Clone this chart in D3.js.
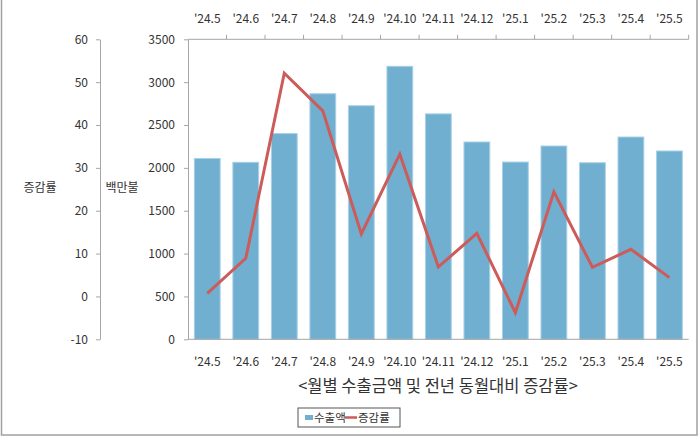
<!DOCTYPE html>
<html>
<head>
<meta charset="utf-8">
<script src="https://cdn.jsdelivr.net/npm/d3@7"></script>
<style>
  body { margin: 0; background: #fff; }
  text { font-family: "Noto Sans CJK KR", "Noto Sans", sans-serif; fill: #333; }
</style>
</head>
<body>
<div id="chart"></div>
<script>
// data
var months = ["'24.5", "'24.6", "'24.7", "'24.8", "'24.9", "'24.10", "'24.11",
  "'24.12", "'25.1", "'25.2", "'25.3", "'25.4", "'25.5"];
var exports = [2110, 2065, 2400, 2865, 2725, 3185, 2630, 2302, 2068, 2255, 2060, 2360, 2197];
var rates = [0.7, 8.9, 52.1, 43.3, 14.6, 33.2, 6.9, 14.7, -3.8, 24.4, 6.8, 11.0, 4.4];
var amountTicks = [0, 500, 1000, 1500, 2000, 2500, 3000, 3500];
var rateTicks = [-10, 0, 10, 20, 30, 40, 50, 60];

var W = 700, H = 439;
var plot = { left: 188, right: 688.7, top: 39.3, bottom: 339.3 };
var axisColor = "#a6a6a6";

var svg = d3
  .select("#chart")
  .append("svg")
  .attr("width", W)
  .attr("height", H);

// outer frame
svg
  .append("rect")
  .attr("x", 1.5)
  .attr("y", -5)
  .attr("width", 695.5)
  .attr("height", 440)
  .attr("fill", "none")
  .attr("stroke", "#a0a0a0")
  .attr("stroke-width", 1.5);

var x = d3
  .scaleBand()
  .domain(months)
  .range([plot.left, plot.right])
  .paddingInner(0.33)
  .paddingOuter(0.165);

var y = d3.scaleLinear().domain([0, 3500]).range([plot.bottom, plot.top]);
var yRate = d3.scaleLinear().domain([-10, 60]).range([plot.bottom, plot.top]);

// bars
svg
  .append("g")
  .selectAll("rect")
  .data(exports)
  .enter()
  .append("rect")
  .attr("x", function (d, i) { return x(months[i]); })
  .attr("y", function (d) { return y(d); })
  .attr("width", x.bandwidth())
  .attr("height", function (d) { return y(0) - y(d); })
  .attr("fill", "#70afd0")
  .attr("stroke", "#a9d1e7")
  .attr("stroke-width", 1);

// left amount axis
var gAmt = svg
  .append("g")
  .attr("transform", "translate(" + plot.left + ",0)")
  .call(d3.axisLeft(y).tickValues(amountTicks).tickSize(4).tickPadding(9).tickSizeOuter(0)
    .tickFormat(d3.format("d")));

// rate axis further left
var gRate = svg
  .append("g")
  .attr("transform", "translate(100,0)")
  .call(d3.axisLeft(yRate).tickValues(rateTicks).tickSize(4).tickPadding(8).tickSizeOuter(0)
    .tickFormat(function (d) { return d < 0 ? "-" + Math.abs(d) : d; }));

[gAmt, gRate].forEach(function (g) {
  g.select(".domain").attr("stroke", axisColor);
  g.selectAll(".tick line").attr("stroke", axisColor);
  g.selectAll(".tick text").style("font-size", "12px").attr("fill", "#333");
});

// top axis: line with ticks at band boundaries, labels centred
var half = (x.step() - x.bandwidth()) / 2;
svg
  .append("line")
  .attr("x1", plot.left)
  .attr("x2", plot.right)
  .attr("y1", plot.top)
  .attr("y2", plot.top)
  .attr("stroke", axisColor);
var bounds = months.map(function (m) { return x(m) - half; }).concat([plot.right]);
svg
  .append("g")
  .selectAll("line")
  .data(bounds.slice(1))
  .enter()
  .append("line")
  .attr("x1", function (d) { return d; })
  .attr("x2", function (d) { return d; })
  .attr("y1", plot.top - 4.5)
  .attr("y2", plot.top)
  .attr("stroke", axisColor);

// bottom axis line
svg
  .append("line")
  .attr("x1", plot.left)
  .attr("x2", plot.right)
  .attr("y1", plot.bottom)
  .attr("y2", plot.bottom)
  .attr("stroke", axisColor);

[23, 366].forEach(function (yy) {
  svg
    .append("g")
    .selectAll("text")
    .data(months)
    .enter()
    .append("text")
    .attr("x", function (d) { return x(d) + x.bandwidth() / 2; })
    .attr("y", yy)
    .attr("text-anchor", "middle")
    .style("font-size", "12px")
    .text(function (d) { return d; });
});

// rate line
var line = d3
  .line()
  .x(function (d, i) { return x(months[i]) + x.bandwidth() / 2; })
  .y(function (d) { return yRate(d); });
svg
  .append("path")
  .datum(rates)
  .attr("d", line)
  .attr("fill", "none")
  .attr("stroke", "#cd5b59")
  .attr("stroke-width", 3)
  .attr("stroke-linejoin", "miter");

// axis titles
svg.append("text").attr("x", 40).attr("y", 192).attr("text-anchor", "middle")
  .style("font-size", "12px").text("증감률");
svg.append("text").attr("x", 122).attr("y", 192).attr("text-anchor", "middle")
  .style("font-size", "12px").text("백만불");

// chart caption
svg
  .append("text")
  .attr("x", 438)
  .attr("y", 392)
  .attr("text-anchor", "middle")
  .style("font-size", "16.5px")
  .text("<월별 수출금액 및 전년 동월대비 증감률>");

// legend
var leg = svg.append("g").attr("transform", "translate(298,408)");
leg.append("rect").attr("width", 102).attr("height", 19)
  .attr("fill", "#fff").attr("stroke", "#555").attr("stroke-width", 1);
leg.append("rect").attr("x", 7).attr("y", 7).attr("width", 8).attr("height", 5)
  .attr("fill", "#70afd0");
leg.append("text").attr("x", 16).attr("y", 14).style("font-size", "11.5px").text("수출액");
leg.append("line").attr("x1", 47).attr("x2", 59).attr("y1", 9.5).attr("y2", 9.5)
  .attr("stroke", "#cd5b59").attr("stroke-width", 2.5);
leg.append("text").attr("x", 60).attr("y", 14).style("font-size", "11.5px").text("증감률");
</script>
</body>
</html>
